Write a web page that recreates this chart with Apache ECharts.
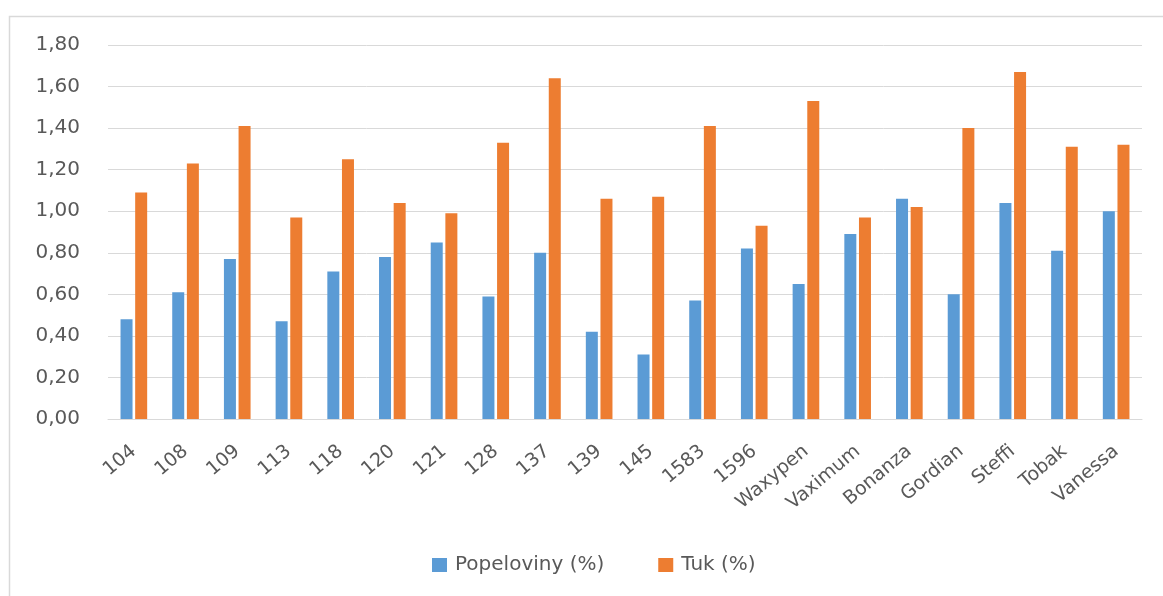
<!DOCTYPE html>
<html>
<head>
<meta charset="utf-8">
<script src="https://cdn.jsdelivr.net/npm/echarts@6/dist/echarts.min.js"></script>
<style>
  html, body { margin: 0; padding: 0; background: #fff; }
  #chart { width: 1163px; height: 596px; }
</style>
</head>
<body>
<div id="chart"></div>
<script>
// Odrůdy / linie
const categories = ['104', '108', '109', '113', '118', '120', '121', '128', '137', '139',
  '145', '1583', '1596', 'Waxypen', 'Vaximum', 'Bonanza', 'Gordian', 'Steffi', 'Tobak', 'Vanessa'];

// Popeloviny (%)
const popeloviny = [0.48, 0.61, 0.77, 0.47, 0.71, 0.78, 0.85, 0.59, 0.80, 0.42,
  0.31, 0.57, 0.82, 0.65, 0.89, 1.06, 0.60, 1.04, 0.81, 1.00];

// Tuk (%)
const tuk = [1.09, 1.23, 1.41, 0.97, 1.25, 1.04, 0.99, 1.33, 1.64, 1.06,
  1.07, 1.41, 0.93, 1.53, 0.97, 1.02, 1.40, 1.67, 1.31, 1.32];

const seriesNames = ['Popeloviny (%)', 'Tuk (%)'];
const yTicks = { min: 0, max: 1.8, step: 0.2 };

const FONT = 'DejaVu Sans';
const TEXT = '#595959';
const GRID = '#d9d9d9';

const chart = echarts.init(document.getElementById('chart'), null, { renderer: 'canvas' });

chart.setOption({
  backgroundColor: '#ffffff',
  animation: false,
  graphic: [{
    type: 'rect',
    left: 7, top: 14,
    shape: { width: 1200, height: 620 },
    style: { fill: 'none', stroke: GRID, lineWidth: 1.5 },
    silent: true
  }],
  grid: { left: 108, right: 21, top: 45, bottom: 177, containLabel: false },
  legend: {
    data: seriesNames,
    left: 427, top: 550,
    itemWidth: 15, itemHeight: 14, itemGap: 54,
    icon: 'rect',
    textStyle: { fontFamily: FONT, fontSize: 20, color: TEXT, padding: [0, 0, 0, 3] }
  },
  xAxis: {
    type: 'category',
    data: categories,
    axisLine: { show: true, lineStyle: { color: GRID, width: 1 } },
    axisTick: { show: false },
    axisLabel: {
      rotate: 40, interval: 0, margin: 30,
      fontFamily: FONT, fontSize: 19, color: TEXT
    }
  },
  yAxis: {
    type: 'value',
    min: yTicks.min, max: yTicks.max, interval: yTicks.step,
    axisLine: { show: false },
    axisTick: { show: false },
    splitLine: { lineStyle: { color: GRID, width: 1 } },
    axisLabel: {
      margin: 28,
      fontFamily: FONT, fontSize: 20, color: TEXT,
      formatter: v => v.toFixed(2).replace('.', ',')
    }
  },
  series: [
    {
      name: seriesNames[0], type: 'bar', data: popeloviny,
      barWidth: 12, barGap: '22%',
      itemStyle: { color: '#5b9bd5' }
    },
    {
      name: seriesNames[1], type: 'bar', data: tuk,
      barWidth: 12,
      itemStyle: { color: '#ed7d31' }
    }
  ]
});
</script>
</body>
</html>
